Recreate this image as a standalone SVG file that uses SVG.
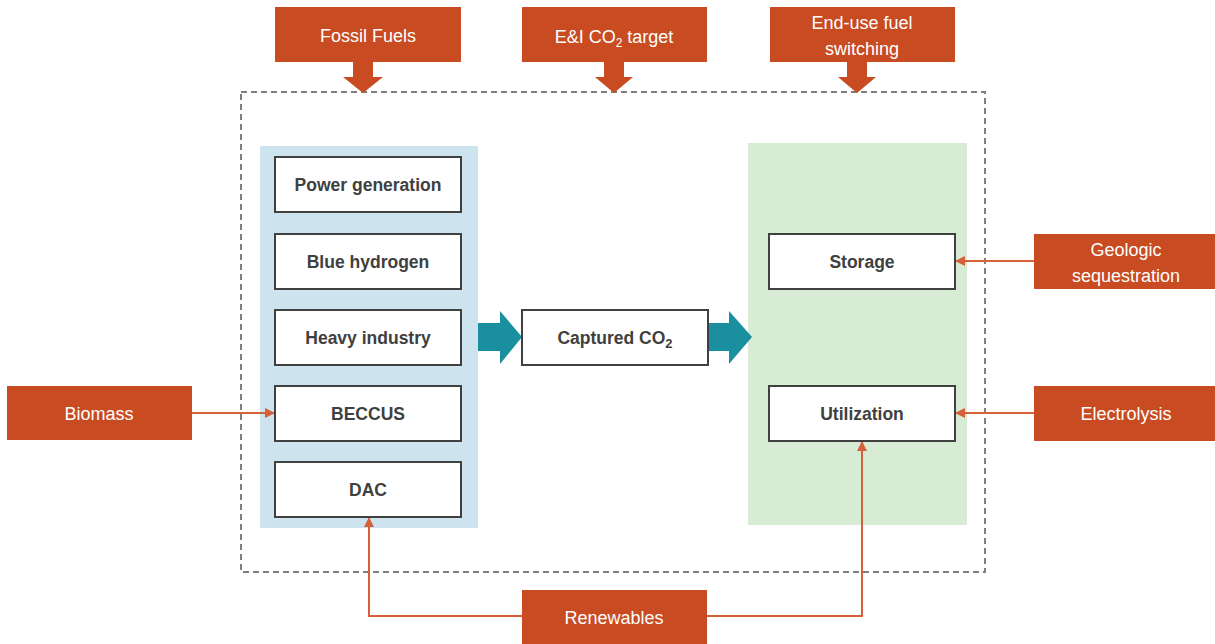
<svg xmlns="http://www.w3.org/2000/svg" width="1215" height="644" viewBox="0 0 1215 644">
<style>
.ob{fill:#C84B22}
.ot{fill:#fff;font-family:"Liberation Sans",Arial,sans-serif;font-size:18px;text-anchor:middle}
.wb{fill:#fff;stroke:#404040;stroke-width:2}
.wt{fill:#404040;font-family:"Liberation Sans",Arial,sans-serif;font-size:17.5px;font-weight:bold;text-anchor:middle}
.ln{fill:none;stroke:#D6603A;stroke-width:2}
.teal{fill:#1A8FA0}
</style>
<defs>
<marker id="ah" viewBox="0 0 10 10" refX="9" refY="5" markerWidth="5" markerHeight="5" orient="auto"><path d="M0,0 L10,5 L0,10 z" fill="#D6603A"/></marker>
</defs>
<rect width="1215" height="644" fill="#fff"/>
<g id="system">
<rect x="241" y="92" width="744" height="480" fill="none" stroke="#7F7F7F" stroke-width="2" stroke-dasharray="6,4"/>
</g>
<g id="capture-panel"><rect x="260" y="146" width="218" height="382" fill="#CDE4EE"/></g>
<g id="use-panel"><rect x="748" y="143" width="219" height="382" fill="#D8EBD4"/></g>
<g id="connectors">
<path class="teal" d="M478,323 H500 V311 L522,337 L500,364 V351 H478 z"/>
<path class="teal" d="M708,323 H729 V311 L752,337 L729,364 V351 H708 z"/>
<path class="ob" d="M353,62 H373 V77 H383 L363,93 L343,77 H353 z"/>
<path class="ob" d="M604,62 H624 V77 H633 L614,93 L595,77 H604 z"/>
<path class="ob" d="M847,62 H867 V77 H876 L857,93 L838,77 H847 z"/>
<path class="ln" d="M192,413 H274" marker-end="url(#ah)"/>
<path class="ln" d="M1034,261 H956" marker-end="url(#ah)"/>
<path class="ln" d="M1034,413 H956" marker-end="url(#ah)"/>
<path class="ln" d="M522,616 H369 V518" marker-end="url(#ah)"/>
<path class="ln" d="M707,616 H862 V442" marker-end="url(#ah)"/>
</g>
<g id="fossil-fuels"><rect class="ob" x="275" y="7" width="186" height="55"/><text class="ot" x="368" y="42">Fossil Fuels</text></g>
<g id="ei-target"><rect class="ob" x="522" y="7" width="185" height="55"/><text class="ot" x="614" y="43">E&amp;I CO<tspan font-size="12" dy="4">2</tspan><tspan dy="-4"> target</tspan></text></g>
<g id="end-use"><rect class="ob" x="770" y="7" width="185" height="55"/><text class="ot" x="862" y="29">End-use fuel</text><text class="ot" x="862" y="55">switching</text></g>
<g id="power"><rect class="wb" x="275" y="157" width="186" height="55"/><text class="wt" x="368" y="191">Power generation</text></g>
<g id="blue-h2"><rect class="wb" x="275" y="234" width="186" height="55"/><text class="wt" x="368" y="268">Blue hydrogen</text></g>
<g id="heavy"><rect class="wb" x="275" y="310" width="186" height="55"/><text class="wt" x="368" y="344">Heavy industry</text></g>
<g id="beccus"><rect class="wb" x="275" y="386" width="186" height="55"/><text class="wt" x="368" y="420">BECCUS</text></g>
<g id="dac"><rect class="wb" x="275" y="462" width="186" height="55"/><text class="wt" x="368" y="496">DAC</text></g>
<g id="captured"><rect class="wb" x="522" y="310" width="186" height="55"/><text class="wt" x="615" y="344">Captured CO<tspan font-size="13" dy="4">2</tspan></text></g>
<g id="storage"><rect class="wb" x="769" y="234" width="186" height="55"/><text class="wt" x="862" y="268">Storage</text></g>
<g id="utilization"><rect class="wb" x="769" y="386" width="186" height="55"/><text class="wt" x="862" y="420">Utilization</text></g>
<g id="biomass"><rect class="ob" x="7" y="386" width="185" height="54"/><text class="ot" x="99" y="420">Biomass</text></g>
<g id="geologic"><rect class="ob" x="1034" y="234" width="181" height="55"/><text class="ot" x="1126" y="256">Geologic</text><text class="ot" x="1126" y="282">sequestration</text></g>
<g id="electrolysis"><rect class="ob" x="1034" y="386" width="181" height="55"/><text class="ot" x="1126" y="420">Electrolysis</text></g>
<g id="renewables"><rect class="ob" x="522" y="590" width="185" height="54"/><text class="ot" x="614" y="624">Renewables</text></g>
</svg>
